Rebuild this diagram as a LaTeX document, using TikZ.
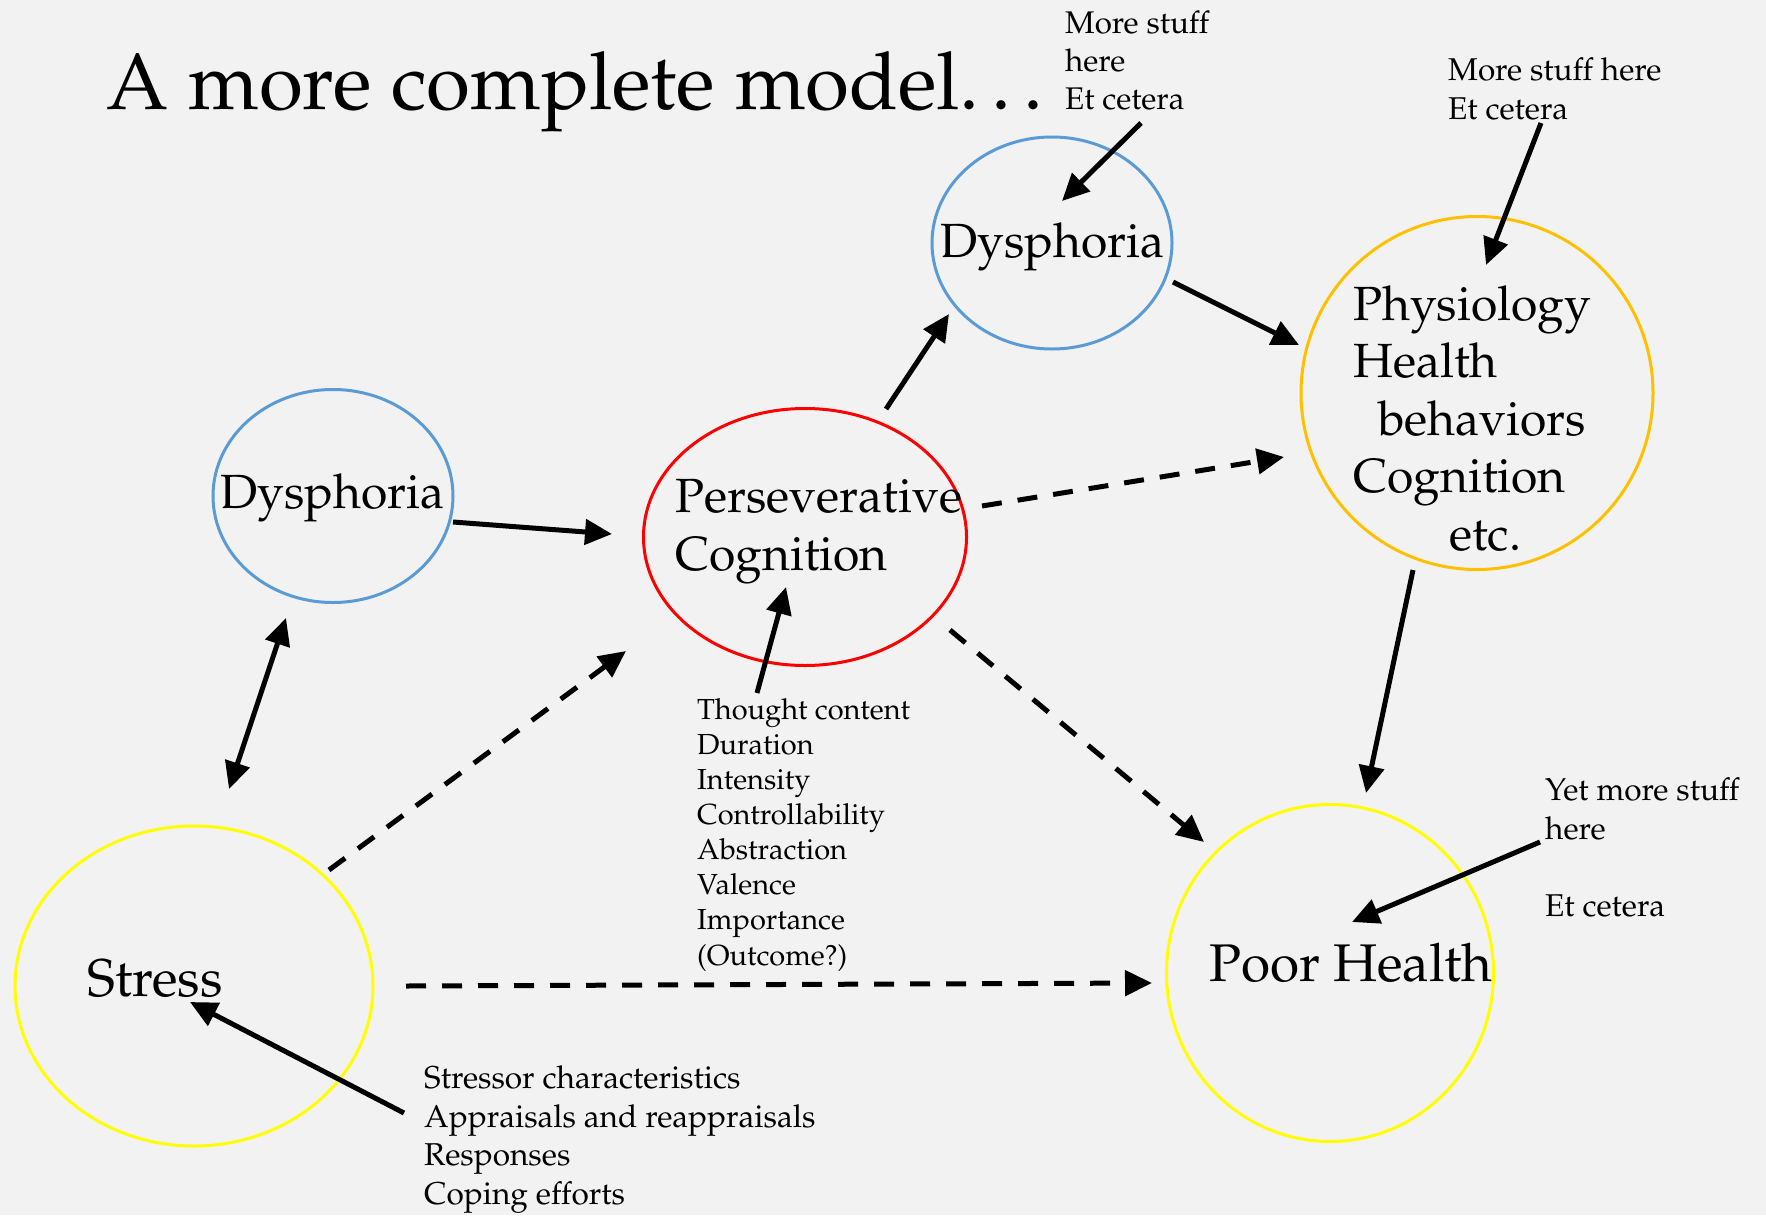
\documentclass[tikz,border=0pt]{standalone}
\usepackage[T1]{fontenc}
\usepackage{mathpazo}
\usetikzlibrary{arrows.meta,shapes.geometric}
\definecolor{bgc}{HTML}{F2F2F2}
\definecolor{oblue}{HTML}{5B9BD5}
\definecolor{ored}{HTML}{FF0000}
\definecolor{oorange}{HTML}{FFC000}
\definecolor{oyellow}{HTML}{FFFF00}
\tikzset{
  oval/.style={ellipse, draw, line width=3pt, inner sep=0pt},
  lbl/.style={inner sep=0pt, anchor=base west, align=left},
  arr/.style={line width=5pt, -{Triangle[length=27pt,width=25pt]}},
  darr/.style={arr, dash pattern=on 20pt off 16pt},
  dblarr/.style={line width=5pt, {Triangle[length=27pt,width=25pt]}-{Triangle[length=27pt,width=25pt]}}
}
\begin{document}
\begin{tikzpicture}[x=1pt,y=-1pt]
\fill[bgc] (0,0) rectangle (1766,1215);
\useasboundingbox (0,0) rectangle (1766,1215);

% ellipses
\node[oval, draw=oblue, minimum width=240pt, minimum height=213pt] (dys1) at (333,496) {};
\node[oval, draw=oblue, minimum width=240pt, minimum height=212pt] (dys2) at (1052,243) {};
\node[oval, draw=ored, minimum width=323pt, minimum height=257pt] (pc) at (805,537) {};
\node[oval, draw=oorange, minimum width=352pt, minimum height=353pt] (phys) at (1477,393) {};
\node[oval, draw=oyellow, minimum width=358pt, minimum height=320pt] (stress) at (194,986) {};
\node[oval, draw=oyellow, minimum width=327pt, minimum height=337pt] (ph) at (1330,973) {};

% texts (base anchor of a multi-line node = baseline of its last line)
\node[lbl, font=\fontsize{80}{96}\selectfont] (title) at (106,109) {A more complete model\ldots};
\node[lbl, font=\fontsize{48}{58}\selectfont] (tdys1) at (220,508) {Dysphoria};
\node[lbl, font=\fontsize{48}{58}\selectfont] (tdys2) at (940,257) {Dysphoria};
\node[lbl, font=\fontsize{48}{58}\selectfont] (tpc) at (675,570) {Perseverative\\Cognition};
\node[lbl, font=\fontsize{48}{57.5}\selectfont] (tphys) at (1353,550) {Physiology\\Health\\\hspace*{25pt}behaviors\\Cognition\\\hspace*{96pt}etc.};
\node[lbl, font=\fontsize{53}{63}\selectfont] (tstress) at (87,996) {Stress};
\node[lbl, font=\fontsize{53}{63}\selectfont] (tph) at (1209,981) {Poor Health};

\node[lbl, font=\fontsize{29}{35.1}\selectfont] (thought) at (697,965) {Thought content\\Duration\\Intensity\\Controllability\\Abstraction\\Valence\\Importance\\(Outcome?)};
\node[lbl, font=\fontsize{31.6}{38.5}\selectfont] (stressor) at (424,1204) {Stressor characteristics\\Appraisals and reappraisals\\Responses\\Coping efforts};
\node[lbl, font=\fontsize{31.3}{38}\selectfont] (more1) at (1065,109) {More stuff\\here\\Et cetera};
\node[lbl, font=\fontsize{31.5}{39}\selectfont] (more2) at (1448,119) {More stuff here\\Et cetera};
\node[lbl, font=\fontsize{31.5}{39}\selectfont] (yet) at (1545,916) {Yet more stuff\\here\\[38pt]Et cetera};

% connector endpoints
\coordinate (a1s) at (453,522);  \coordinate (a1e) at (612,534);
\coordinate (a2s) at (229,789);  \coordinate (a2e) at (286,618);
\coordinate (a3s) at (329,870);  \coordinate (a3e) at (626,651);
\coordinate (a4s) at (886,409);  \coordinate (a4e) at (949,314);
\coordinate (a5s) at (1173,282); \coordinate (a5e) at (1299,345);
\coordinate (a6s) at (982,506);  \coordinate (a6e) at (1284,457);
\coordinate (a7s) at (950,630);  \coordinate (a7e) at (1204,842);
\coordinate (a8s) at (406,986);  \coordinate (a8e) at (1152,983);
\coordinate (a9s) at (1413,570); \coordinate (a9e) at (1366,793);
\coordinate (a10s) at (757,693); \coordinate (a10e) at (786,587);
\coordinate (a11s) at (1141,123); \coordinate (a11e) at (1062,201);
\coordinate (a12s) at (1541,123); \coordinate (a12e) at (1486,265);
\coordinate (a13s) at (1540,842); \coordinate (a13e) at (1352,922);
\coordinate (a14s) at (404,1113); \coordinate (a14e) at (190,1002);

\draw[arr] (a1s) -- (a1e);
\draw[dblarr] (a2s) -- (a2e);
\draw[darr] (a3s) -- (a3e);
\draw[arr] (a4s) -- (a4e);
\draw[arr] (a5s) -- (a5e);
\draw[darr] (a6s) -- (a6e);
\draw[darr] (a7s) -- (a7e);
\draw[darr] (a8s) -- (a8e);
\draw[arr] (a9s) -- (a9e);
\draw[arr] (a10s) -- (a10e);
\draw[arr] (a11s) -- (a11e);
\draw[arr] (a12s) -- (a12e);
\draw[arr] (a13s) -- (a13e);
\draw[arr] (a14s) -- (a14e);
\end{tikzpicture}
\end{document}
